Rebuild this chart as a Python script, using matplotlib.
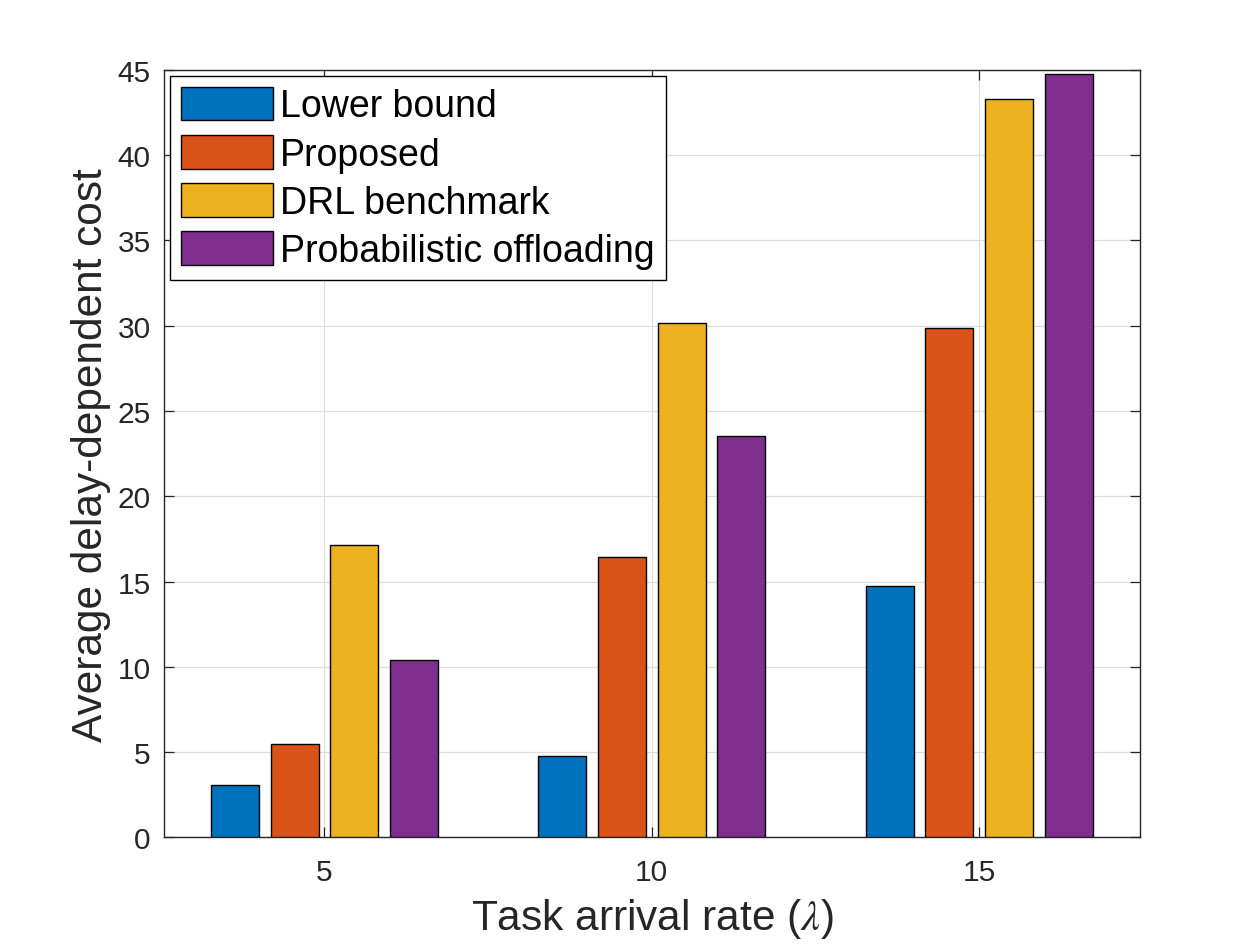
import matplotlib
matplotlib.use("Agg")
import matplotlib.pyplot as plt
import numpy as np

plt.rcParams['font.family'] = ['Liberation Sans', 'DejaVu Sans']
plt.rcParams['mathtext.fontset'] = 'stix'

# dados
taxas = [5, 10, 15]
nomes = ["Lower bound", "Proposed", "DRL benchmark", "Probabilistic offloading"]
lower_bound = [3.07, 4.76, 14.76]
proposto = [5.46, 16.44, 29.89]
drl = [17.15, 30.18, 43.27]
probabilistico = [10.39, 23.56, 44.76]

series = [lower_bound, proposto, drl, probabilistico]
cores = ["#0072BD", "#D95319", "#EDB120", "#7E2F8E"]
cinza = "#262626"

fig = plt.figure(figsize=(12.6, 9.45), dpi=100)
ax = fig.add_axes([0.1302, 0.1129, 0.7742, 0.812])

largura = 0.733
passo = 0.911
x = np.array(taxas, dtype=float)

for i, valores in enumerate(series):
    ax.bar(x + (i - 1.5) * passo, valores, width=largura,
           color=cores[i], edgecolor="black", linewidth=1.0,
           label=nomes[i], zorder=3)

ax.set_xlim(2.55, 17.45)
ax.set_ylim(0, 45)
ax.set_xticks(taxas)
ax.set_yticks(np.arange(0, 46, 5))

ax.grid(True, color="#dedede", linewidth=0.9, zorder=0)
ax.set_axisbelow(True)

for lado in ax.spines.values():
    lado.set_color(cinza)
    lado.set_linewidth(1.0)

ax.tick_params(axis="both", direction="in", length=7, width=0.9,
               color=cinza, labelcolor=cinza, labelsize=21.5,
               top=True, right=True)
ax.tick_params(axis="x", pad=15)
ax.tick_params(axis="y", pad=9.5)

ax.set_xlabel(r"Task arrival rate ($\lambda$)", fontsize=30.5, color=cinza, labelpad=7)
ax.set_ylabel("Average delay-dependent cost", fontsize=30.5, color=cinza, labelpad=5)

leg = ax.legend(loc="upper left", fontsize=27, fancybox=False, framealpha=1,
                edgecolor="black", handlelength=2.45, handleheight=1.0,
                handletextpad=0.2, labelspacing=0.28, borderpad=0.3,
                borderaxespad=0.15)
leg.get_frame().set_linewidth(1.0)

fig.savefig("out.png", dpi=100)
